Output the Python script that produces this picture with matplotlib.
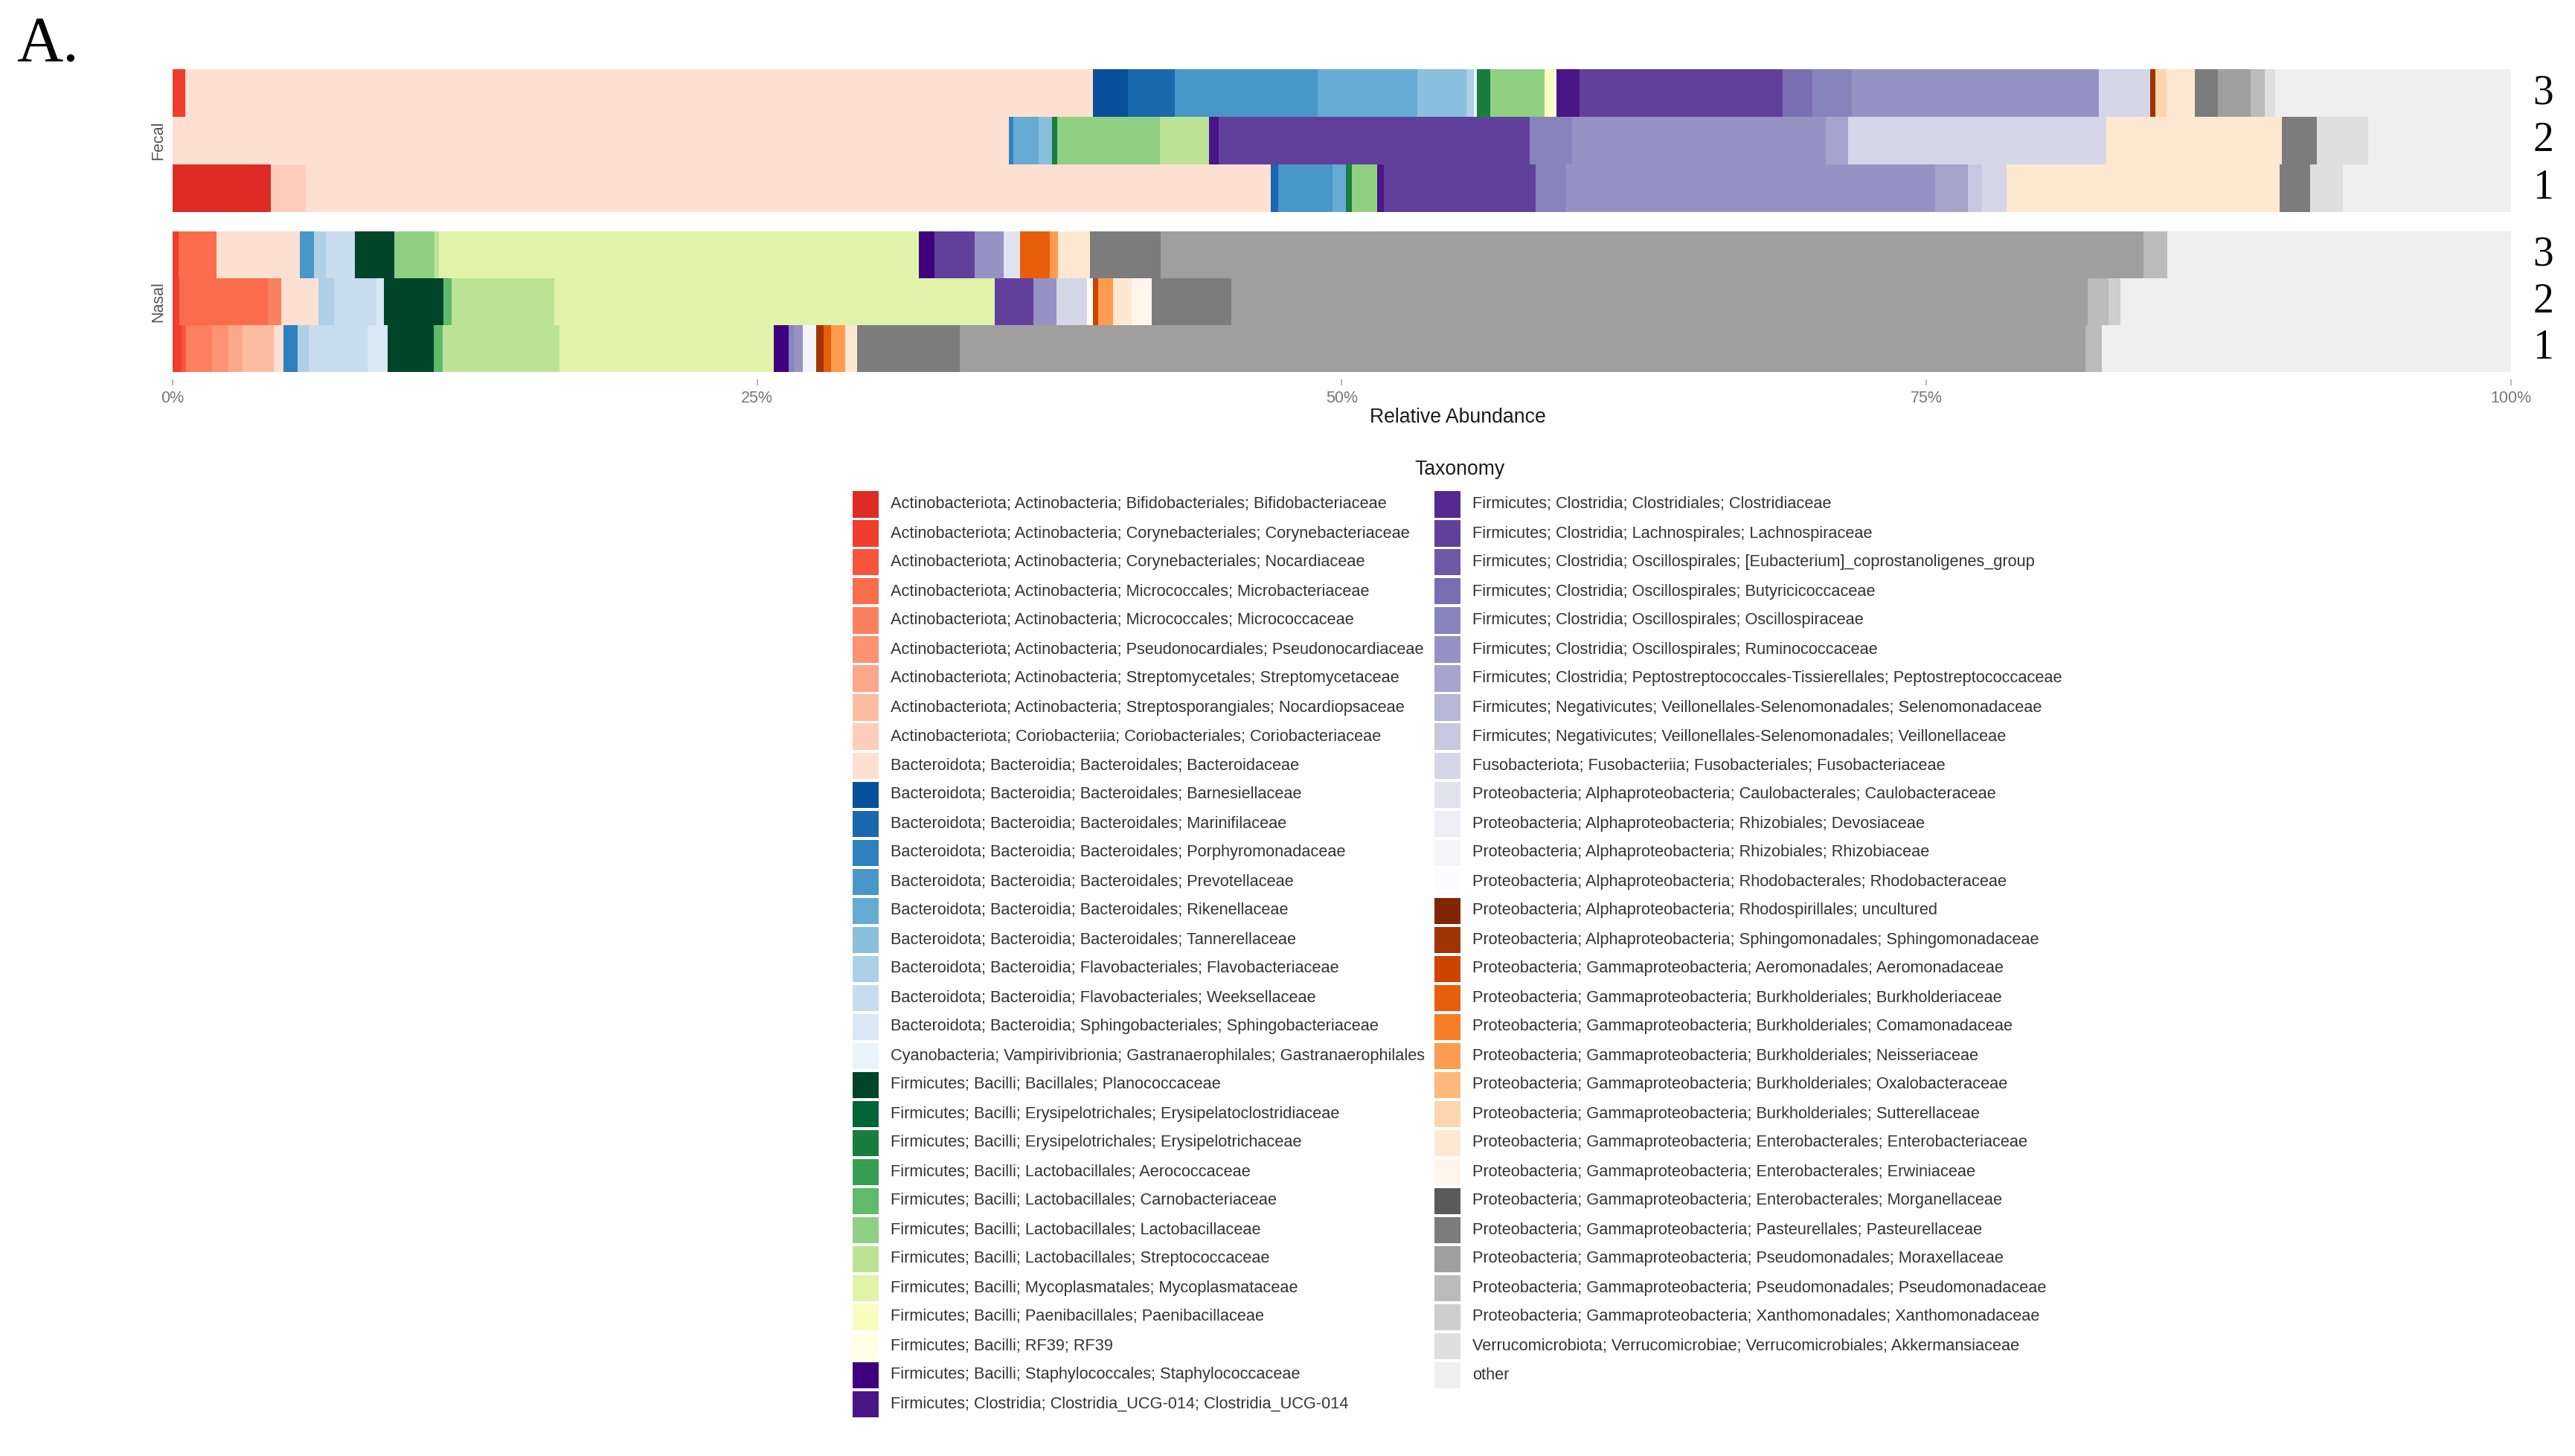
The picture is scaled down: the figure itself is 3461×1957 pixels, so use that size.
import numpy as np
import matplotlib
matplotlib.use("Agg")
import matplotlib.pyplot as plt
import matplotlib.transforms as mtransforms
from matplotlib.patches import Rectangle
from matplotlib import font_manager

# taxonomy levels in legend order (stack order left -> right)
taxa = [
    "Actinobacteriota; Actinobacteria; Bifidobacteriales; Bifidobacteriaceae",
    "Actinobacteriota; Actinobacteria; Corynebacteriales; Corynebacteriaceae",
    "Actinobacteriota; Actinobacteria; Corynebacteriales; Nocardiaceae",
    "Actinobacteriota; Actinobacteria; Micrococcales; Microbacteriaceae",
    "Actinobacteriota; Actinobacteria; Micrococcales; Micrococcaceae",
    "Actinobacteriota; Actinobacteria; Pseudonocardiales; Pseudonocardiaceae",
    "Actinobacteriota; Actinobacteria; Streptomycetales; Streptomycetaceae",
    "Actinobacteriota; Actinobacteria; Streptosporangiales; Nocardiopsaceae",
    "Actinobacteriota; Coriobacteriia; Coriobacteriales; Coriobacteriaceae",
    "Bacteroidota; Bacteroidia; Bacteroidales; Bacteroidaceae",
    "Bacteroidota; Bacteroidia; Bacteroidales; Barnesiellaceae",
    "Bacteroidota; Bacteroidia; Bacteroidales; Marinifilaceae",
    "Bacteroidota; Bacteroidia; Bacteroidales; Porphyromonadaceae",
    "Bacteroidota; Bacteroidia; Bacteroidales; Prevotellaceae",
    "Bacteroidota; Bacteroidia; Bacteroidales; Rikenellaceae",
    "Bacteroidota; Bacteroidia; Bacteroidales; Tannerellaceae",
    "Bacteroidota; Bacteroidia; Flavobacteriales; Flavobacteriaceae",
    "Bacteroidota; Bacteroidia; Flavobacteriales; Weeksellaceae",
    "Bacteroidota; Bacteroidia; Sphingobacteriales; Sphingobacteriaceae",
    "Cyanobacteria; Vampirivibrionia; Gastranaerophilales; Gastranaerophilales",
    "Firmicutes; Bacilli; Bacillales; Planococcaceae",
    "Firmicutes; Bacilli; Erysipelotrichales; Erysipelatoclostridiaceae",
    "Firmicutes; Bacilli; Erysipelotrichales; Erysipelotrichaceae",
    "Firmicutes; Bacilli; Lactobacillales; Aerococcaceae",
    "Firmicutes; Bacilli; Lactobacillales; Carnobacteriaceae",
    "Firmicutes; Bacilli; Lactobacillales; Lactobacillaceae",
    "Firmicutes; Bacilli; Lactobacillales; Streptococcaceae",
    "Firmicutes; Bacilli; Mycoplasmatales; Mycoplasmataceae",
    "Firmicutes; Bacilli; Paenibacillales; Paenibacillaceae",
    "Firmicutes; Bacilli; RF39; RF39",
    "Firmicutes; Bacilli; Staphylococcales; Staphylococcaceae",
    "Firmicutes; Clostridia; Clostridia_UCG-014; Clostridia_UCG-014",
    "Firmicutes; Clostridia; Clostridiales; Clostridiaceae",
    "Firmicutes; Clostridia; Lachnospirales; Lachnospiraceae",
    "Firmicutes; Clostridia; Oscillospirales; [Eubacterium]_coprostanoligenes_group",
    "Firmicutes; Clostridia; Oscillospirales; Butyricicoccaceae",
    "Firmicutes; Clostridia; Oscillospirales; Oscillospiraceae",
    "Firmicutes; Clostridia; Oscillospirales; Ruminococcaceae",
    "Firmicutes; Clostridia; Peptostreptococcales-Tissierellales; Peptostreptococcaceae",
    "Firmicutes; Negativicutes; Veillonellales-Selenomonadales; Selenomonadaceae",
    "Firmicutes; Negativicutes; Veillonellales-Selenomonadales; Veillonellaceae",
    "Fusobacteriota; Fusobacteriia; Fusobacteriales; Fusobacteriaceae",
    "Proteobacteria; Alphaproteobacteria; Caulobacterales; Caulobacteraceae",
    "Proteobacteria; Alphaproteobacteria; Rhizobiales; Devosiaceae",
    "Proteobacteria; Alphaproteobacteria; Rhizobiales; Rhizobiaceae",
    "Proteobacteria; Alphaproteobacteria; Rhodobacterales; Rhodobacteraceae",
    "Proteobacteria; Alphaproteobacteria; Rhodospirillales; uncultured",
    "Proteobacteria; Alphaproteobacteria; Sphingomonadales; Sphingomonadaceae",
    "Proteobacteria; Gammaproteobacteria; Aeromonadales; Aeromonadaceae",
    "Proteobacteria; Gammaproteobacteria; Burkholderiales; Burkholderiaceae",
    "Proteobacteria; Gammaproteobacteria; Burkholderiales; Comamonadaceae",
    "Proteobacteria; Gammaproteobacteria; Burkholderiales; Neisseriaceae",
    "Proteobacteria; Gammaproteobacteria; Burkholderiales; Oxalobacteraceae",
    "Proteobacteria; Gammaproteobacteria; Burkholderiales; Sutterellaceae",
    "Proteobacteria; Gammaproteobacteria; Enterobacterales; Enterobacteriaceae",
    "Proteobacteria; Gammaproteobacteria; Enterobacterales; Erwiniaceae",
    "Proteobacteria; Gammaproteobacteria; Enterobacterales; Morganellaceae",
    "Proteobacteria; Gammaproteobacteria; Pasteurellales; Pasteurellaceae",
    "Proteobacteria; Gammaproteobacteria; Pseudomonadales; Moraxellaceae",
    "Proteobacteria; Gammaproteobacteria; Pseudomonadales; Pseudomonadaceae",
    "Proteobacteria; Gammaproteobacteria; Xanthomonadales; Xanthomonadaceae",
    "Verrucomicrobiota; Verrucomicrobiae; Verrucomicrobiales; Akkermansiaceae",
    "other",
]
families = [t.split("; ")[-1] for t in taxa]

# relative abundance (%) per sample
fecal_1 = {"Bifidobacteriaceae": 4.2, "Coriobacteriaceae": 1.5, "Bacteroidaceae": 41.3,
           "Marinifilaceae": 0.3, "Prevotellaceae": 2.35, "Rikenellaceae": 0.55,
           "Erysipelotrichaceae": 0.25, "Lactobacillaceae": 1.1, "Clostridia_UCG-014": 0.27,
           "Lachnospiraceae": 6.5, "Oscillospiraceae": 1.3, "Ruminococcaceae": 15.8,
           "Peptostreptococcaceae": 1.4, "Veillonellaceae": 0.6, "Fusobacteriaceae": 1.05,
           "Enterobacteriaceae": 11.7, "Pasteurellaceae": 1.3, "Akkermansiaceae": 1.4,
           "other": 7.2}
fecal_2 = {"Bacteroidaceae": 35.7, "Porphyromonadaceae": 0.2, "Rikenellaceae": 1.1,
           "Tannerellaceae": 0.55, "Erysipelotrichaceae": 0.22, "Lactobacillaceae": 4.4,
           "Streptococcaceae": 2.1, "Clostridia_UCG-014": 0.4, "Lachnospiraceae": 13.3,
           "Oscillospiraceae": 1.8, "Ruminococcaceae": 10.85, "Peptostreptococcaceae": 0.95,
           "Fusobacteriaceae": 11.0, "Enterobacteriaceae": 7.5, "Pasteurellaceae": 1.5,
           "Akkermansiaceae": 2.2, "other": 6.1}
fecal_3 = {"Corynebacteriaceae": 0.55, "Bacteroidaceae": 38.9, "Barnesiellaceae": 1.5,
           "Marinifilaceae": 2.0, "Prevotellaceae": 6.1, "Rikenellaceae": 4.3,
           "Tannerellaceae": 2.1, "Flavobacteriaceae": 0.3, "Gastranaerophilales": 0.15,
           "Erysipelotrichaceae": 0.55, "Lactobacillaceae": 2.35, "Paenibacillaceae": 0.4,
           "RF39": 0.1, "Clostridia_UCG-014": 1.0, "Lachnospiraceae": 8.7,
           "Butyricicoccaceae": 1.25, "Oscillospiraceae": 1.7, "Ruminococcaceae": 10.6,
           "Fusobacteriaceae": 2.2, "Sphingomonadaceae": 0.2, "Sutterellaceae": 0.5,
           "Enterobacteriaceae": 1.2, "Pasteurellaceae": 1.0, "Moraxellaceae": 1.4,
           "Pseudomonadaceae": 0.6, "Akkermansiaceae": 0.45, "other": 10.1}
nasal_1 = {"Corynebacteriaceae": 0.39, "Nocardiaceae": 0.18, "Micrococcaceae": 1.1,
           "Pseudonocardiaceae": 0.7, "Streptomycetaceae": 0.63, "Nocardiopsaceae": 1.34,
           "Bacteroidaceae": 0.39, "Porphyromonadaceae": 0.6, "Flavobacteriaceae": 0.48,
           "Weeksellaceae": 2.53, "Sphingobacteriaceae": 0.84, "Planococcaceae": 1.99,
           "Carnobacteriaceae": 0.38, "Streptococcaceae": 5.0, "Mycoplasmataceae": 9.15,
           "Staphylococcaceae": 0.62, "Oscillospiraceae": 0.22, "Ruminococcaceae": 0.38,
           "Rhizobiaceae": 0.6, "Sphingomonadaceae": 0.3, "Burkholderiaceae": 0.33,
           "Neisseriaceae": 0.6, "Enterobacteriaceae": 0.5, "Pasteurellaceae": 4.4,
           "Moraxellaceae": 48.1, "Pseudomonadaceae": 0.7, "other": 17.5}
nasal_2 = {"Corynebacteriaceae": 0.28, "Microbacteriaceae": 3.8, "Micrococcaceae": 0.55,
           "Bacteroidaceae": 1.6, "Flavobacteriaceae": 0.67, "Weeksellaceae": 1.8,
           "Sphingobacteriaceae": 0.33, "Planococcaceae": 2.55, "Carnobacteriaceae": 0.33,
           "Streptococcaceae": 4.4, "Mycoplasmataceae": 18.8, "Lachnospiraceae": 1.65,
           "Ruminococcaceae": 1.0, "Fusobacteriaceae": 1.3, "Rhodobacteraceae": 0.27,
           "Aeromonadaceae": 0.22, "Neisseriaceae": 0.63, "Enterobacteriaceae": 0.8,
           "Erwiniaceae": 0.85, "Pasteurellaceae": 3.4, "Moraxellaceae": 36.6,
           "Pseudomonadaceae": 0.87, "Xanthomonadaceae": 0.5, "other": 16.7}
nasal_3 = {"Corynebacteriaceae": 0.27, "Microbacteriaceae": 1.6, "Bacteroidaceae": 3.55,
           "Prevotellaceae": 0.63, "Flavobacteriaceae": 0.5, "Weeksellaceae": 1.23,
           "Planococcaceae": 1.68, "Lactobacillaceae": 1.73, "Streptococcaceae": 0.2,
           "Mycoplasmataceae": 20.5, "Staphylococcaceae": 0.67, "Lachnospiraceae": 1.7,
           "Ruminococcaceae": 1.25, "Caulobacteraceae": 0.7, "Burkholderiaceae": 1.27,
           "Neisseriaceae": 0.35, "Enterobacteriaceae": 1.37, "Pasteurellaceae": 3.0,
           "Moraxellaceae": 42.0, "Pseudomonadaceae": 1.0, "other": 14.7}

# palette: brewer ramps per block of taxa
colors = np.vstack([
    plt.cm.Reds(np.linspace(0.68, 0.125, 10)),
    plt.cm.Blues(np.linspace(0.875, 0.06, 10)),
    plt.cm.YlGn(np.linspace(1.0, 0.0, 10)),
    plt.cm.Purples(np.linspace(1.0, 0.0, 16)),
    plt.cm.Oranges(np.linspace(1.0, 0.0, 10)),
    plt.cm.Greys([0.72, 0.59, 0.47, 0.38, 0.30, 0.22, 0.13]),
])

# narrow sans if present (original text is condensed), else regular
avail = {f.name for f in font_manager.fontManager.ttflist}
if "Liberation Sans Narrow" in avail:
    sans, k = "Liberation Sans Narrow", 1 / 0.82
else:
    sans, k = "Liberation Sans", 1.0
serif = "Liberation Serif"

W, H = 3462, 1957
fig = plt.figure(figsize=(W / 100, H / 100), dpi=100)
fig.patch.set_facecolor("white")


def fx(px):
    return px / W


def fy(px):
    return 1 - px / H


panels = [("Fecal", [fecal_1, fecal_2, fecal_3], 93, 285),
          ("Nasal", [nasal_1, nasal_2, nasal_3], 311, 500)]

for name, samples, top, bottom in panels:
    ax = fig.add_axes([fx(232), fy(bottom), fx(3375) - fx(232), fy(top) - fy(bottom)])
    mat = np.array([[s.get(f, 0.0) for f in families] for s in samples], float)
    mat = mat / mat.sum(axis=1, keepdims=True)
    ypos = np.arange(1, len(samples) + 1)
    left = np.zeros(len(samples))
    for i in range(len(taxa)):
        ax.barh(ypos, mat[:, i], left=left, height=0.985, color=colors[i], linewidth=0)
        left += mat[:, i]
    ax.set_xlim(0, 1)
    ax.set_ylim(0.5, 3.5)
    for sp in ax.spines.values():
        sp.set_visible(False)
    ax.set_yticks([])
    trans = mtransforms.blended_transform_factory(ax.transAxes, ax.transData)
    for y in ypos:
        ax.text(1.0137, y, str(y), transform=trans, ha="center", va="center",
                fontsize=40, family=serif, color="black")
    ax.text(-0.006, 0.5, name, transform=ax.transAxes, rotation=90, ha="center",
            va="center", fontsize=15.5, family="Liberation Sans", color="#555555")
    if name == "Nasal":
        ax.spines["bottom"].set_position(("outward", 7))
        ax.set_xticks([0, 0.25, 0.5, 0.75, 1.0])
        ax.set_xticklabels(["0%", "25%", "50%", "75%", "100%"])
        ax.tick_params(axis="x", length=6, width=1.2, color="#aaaaaa", pad=5,
                       labelsize=15.5 * k, labelcolor="#777777")
        for lab in ax.get_xticklabels():
            lab.set_family(sans)
    else:
        ax.set_xticks([])

fig.text(fx(22), fy(82), "A.", family=serif, fontsize=62, va="baseline", ha="left")
fig.text(fx(1959), fy(561), "Relative Abundance", family=sans, fontsize=19.2 * k,
         ha="center", va="center", color="#1a1a1a")
fig.text(fx(1962), fy(631), "Taxonomy", family=sans, fontsize=19.1 * k,
         ha="center", va="center", color="#1a1a1a")

# legend: two columns, filled column-wise like ggplot
nrow = 32
col_x = [1146, 1928]
key, pitch, first_y = 35, 39.0, 678
for i, label in enumerate(taxa):
    col, row = divmod(i, nrow)
    x0 = col_x[col]
    yc = first_y + pitch * row
    fig.add_artist(Rectangle((fx(x0), fy(yc + key / 2)), key / W, key / H,
                             transform=fig.transFigure, facecolor=colors[i],
                             edgecolor="none"))
    fig.text(fx(x0 + key + 16), fy(yc), label, family=sans, fontsize=15.7 * k,
             ha="left", va="center", color="#333333")

fig.savefig("out.png", dpi=100, facecolor="white")
